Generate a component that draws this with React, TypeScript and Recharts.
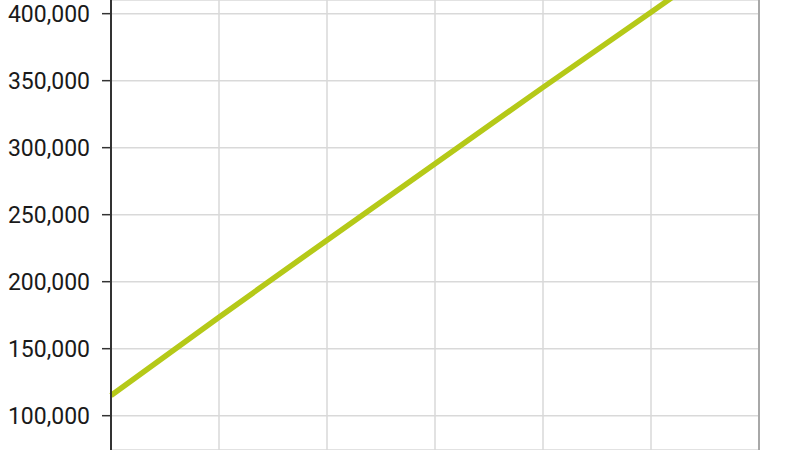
import { LineChart, Line, CartesianGrid, XAxis, YAxis, ReferenceLine } from 'recharts';

const periods = ['P1', 'P2', 'P3', 'P4', 'P5', 'P6', 'P7'];
const values = [115000, 173500, 231000, 288000, 345000, 401000, 458000];
const yTicks = [100000, 150000, 200000, 250000, 300000, 350000, 400000];

const data = periods.map((p, i) => ({ period: p, value: values[i] }));

const fmt = (v: number) => v.toLocaleString('en-US');

export default function App() {
  return (
    <div style={{ position: 'absolute', left: 0, top: 0, background: '#fff' }}>
      <LineChart width={800} height={450} data={data} margin={{ top: 0, right: 41, bottom: 0, left: 0 }}>
        <CartesianGrid stroke="#d9d9d9" strokeWidth={1.5} />
        <XAxis dataKey="period" hide padding={{ left: 0, right: 0 }} />
        <YAxis
          width={111}
          domain={[74400, 410200]}
          allowDataOverflow
          ticks={yTicks}
          tickFormatter={fmt}
          axisLine={{ stroke: '#333', strokeWidth: 2 }}
          tickLine={{ stroke: '#333', strokeWidth: 1.5 }}
          tickSize={9}
          tickMargin={12}
          tick={{ fill: '#1a1a1a', fontSize: 23, fontFamily: 'Roboto' }}
        />
        <ReferenceLine x={periods[periods.length - 1]} stroke="#a8a8a8" strokeWidth={2} />
        <Line
          type="linear"
          dataKey="value"
          stroke="#b5c918"
          strokeWidth={5.5}
          dot={false}
          isAnimationActive={false}
        />
      </LineChart>
    </div>
  );
}
